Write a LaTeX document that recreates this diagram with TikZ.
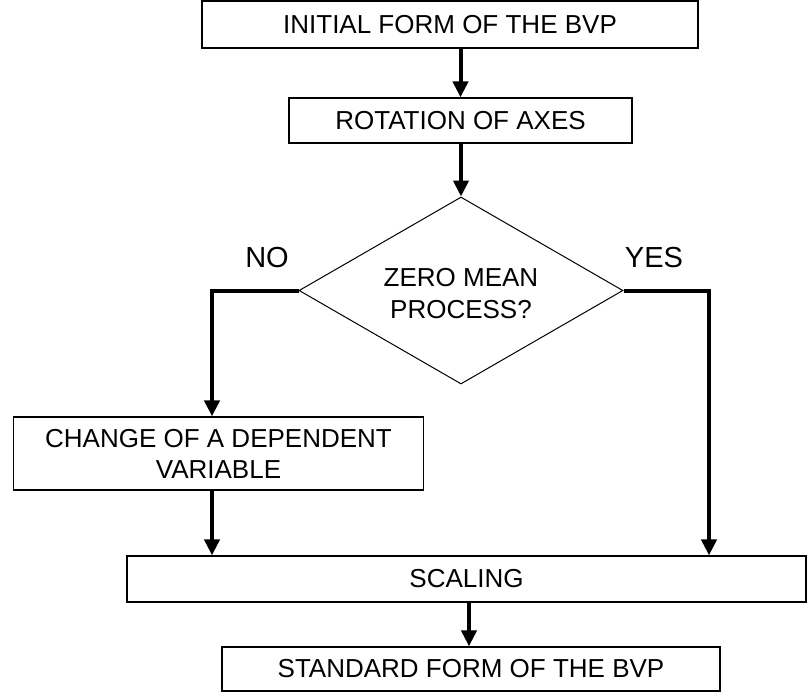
\documentclass[tikz,border=0pt]{standalone}
\usepackage{fontspec}
\setmainfont{Liberation Sans}
\usetikzlibrary{shapes.geometric,arrows.meta}
\begin{document}
\begin{tikzpicture}[x=1pt,y=-1pt,
  every node/.style={font=\fontsize{26}{31}\selectfont},
  box/.style={draw,line width=1.2pt,inner sep=0pt,align=center},
  decision/.style={draw,diamond,line width=1pt,inner sep=0pt},
  answer/.style={font=\fontsize{29}{34}\selectfont},
  arr/.style={line width=4pt,-{Triangle[length=16pt,width=15pt]}}]
\useasboundingbox (0,0) rectangle (807,693);
\node[box,minimum width=496pt,minimum height=47pt] (init) at (450,24.5) {INITIAL FORM OF THE BVP};
\node[box,minimum width=343pt,minimum height=45pt] (rot) at (460.5,120.5) {ROTATION OF AXES};
% decision diamond with its question set separately so the shape keeps its size
\node[decision,minimum width=324pt,minimum height=187pt] (zero) at (461,290.5) {};
\node[align=center,font=\fontsize{26}{32}\selectfont] (zerotext) at (461,294) {ZERO MEAN\\PROCESS?};
\node[answer] (no) at (267,258) {NO};
\node[answer] (yes) at (654,258) {YES};
\node[box,minimum width=410pt,minimum height=73pt] (chg) at (218.5,453.5) {CHANGE OF A DEPENDENT\\VARIABLE};
\node[box,minimum width=679pt,minimum height=46pt] (scal) at (466.5,579) {SCALING};
\node[box,minimum width=498pt,minimum height=44pt] (std) at (471,669) {STANDARD FORM OF THE BVP};
\coordinate (nocorner) at (212,290.5);
\coordinate (yescorner) at (709,290.5);
\draw[arr] (init.south -| rot.north) -- (rot.north);
\draw[arr] (rot.south -| zero.north) -- (zero.north);
\draw[arr] (zero.west) -- (nocorner) -- (nocorner |- chg.north);
\draw[arr] (zero.east) -- (yescorner) -- (yescorner |- scal.north);
\draw[arr] (nocorner |- chg.south) -- (nocorner |- scal.north);
\draw[arr] (469,0 |- scal.south) -- (469,0 |- std.north);
\end{tikzpicture}
\end{document}
